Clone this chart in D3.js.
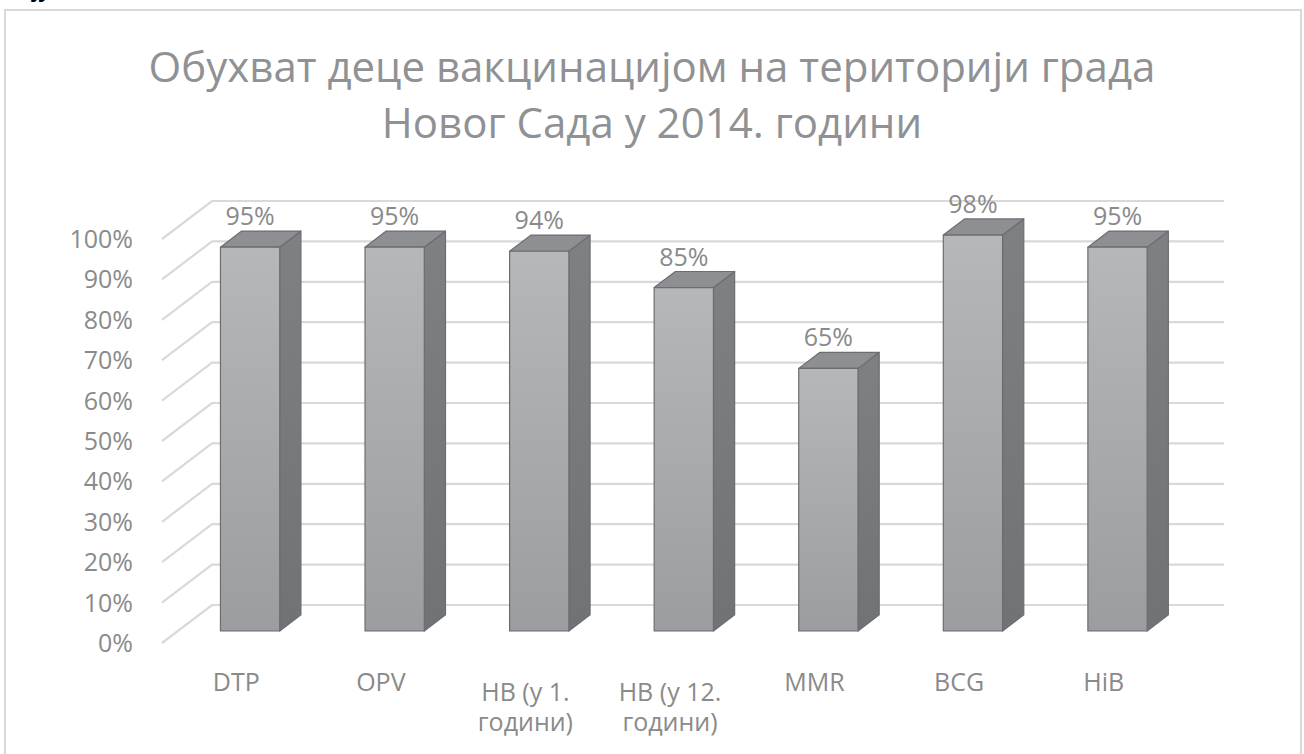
<!DOCTYPE html>
<html>
<head>
<meta charset="utf-8">
<script src="https://cdn.jsdelivr.net/npm/d3@7"></script>
<style>
  html, body { margin: 0; padding: 0; background: #fff; }
  svg { display: block; font-family: "Open Sans", "Noto Sans", sans-serif; }
</style>
</head>
<body>
<svg id="chart" width="1304" height="754"></svg>
<script>
// ---- data ----
const categories = ["DTP", "OPV", "HB (у 1. години)", "HB (у 12. години)", "MMR", "BCG", "HiB"];
const categoryLines = [["DTP"], ["OPV"], ["HB (у 1.", "години)"], ["HB (у 12.", "години)"], ["MMR"], ["BCG"], ["HiB"]];
const values = [0.95, 0.95, 0.94, 0.85, 0.65, 0.98, 0.95];
const valueLabels = ["95%", "95%", "94%", "85%", "65%", "98%", "95%"];
const tickValues = [0, 0.1, 0.2, 0.3, 0.4, 0.5, 0.6, 0.7, 0.8, 0.9, 1.0];
const tickLabels = ["0%", "10%", "20%", "30%", "40%", "50%", "60%", "70%", "80%", "90%", "100%"];
const titleLines = ["Обухват деце вакцинацијом на територији града", "Новог Сада у 2014. години"];

// ---- layout ----
const svg = d3.select("#chart");
const depthX = 50, depthY = -38;      // full floor depth vector
const d0 = 0.316, d1 = 0.74;          // bar depth range (fraction)
const x = d3.scaleBand().domain(categories).range([162, 1174]).padding(0);
const y = d3.scaleLinear().domain([0, 1]).range([643, 239]);
const barW = x.step() * 0.41;
const proj = (px, v, d) => [px + d * depthX, y(v) + d * depthY];
const labelSize = 25, labelColor = "#8a8a8a";

// frame
svg.append("rect").attr("x", 5).attr("y", 10).attr("width", 1296).attr("height", 780)
  .attr("fill", "#fff").attr("stroke", "#d9d9d9").attr("stroke-width", 2);

// cropped text above frame (as in the reference)
svg.append("text").attr("x", 34).attr("y", -3).attr("font-size", 22)
  .attr("font-style", "italic").attr("font-weight", "bold").attr("fill", "#000").text("ју");

// defs
const defs = svg.append("defs");
const gFront = defs.append("linearGradient").attr("id", "gFront").attr("x1", 0).attr("y1", 0).attr("x2", 0).attr("y2", 1);
gFront.append("stop").attr("offset", "0%").attr("stop-color", "#b6b7ba");
gFront.append("stop").attr("offset", "100%").attr("stop-color", "#9c9da0");
const gSide = defs.append("linearGradient").attr("id", "gSide").attr("x1", 0).attr("y1", 0).attr("x2", 0).attr("y2", 1);
gSide.append("stop").attr("offset", "0%").attr("stop-color", "#7f8083");
gSide.append("stop").attr("offset", "100%").attr("stop-color", "#717275");

// title
svg.append("g").selectAll("text").data(titleLines).join("text")
  .attr("x", 652).attr("y", (d, i) => 82 + i * 56)
  .attr("text-anchor", "middle").attr("font-size", 42).attr("fill", "#909194")
  .text(d => d);

// gridlines (wall + floor diagonal)
const x0 = x.range()[0], x1 = x.range()[1];
svg.append("g").selectAll("path").data(tickValues).join("path")
  .attr("d", t => {
    const a = proj(x0, t, 0), b = proj(x0, t, 1), c = proj(x1, t, 1);
    return `M${a}L${b}L${c}`;
  })
  .attr("fill", "none").attr("stroke", "#d9d9d9").attr("stroke-width", 2.2);

// y tick labels
svg.append("g").selectAll("text").data(tickValues).join("text")
  .attr("x", 133).attr("y", t => y(t) + 9)
  .attr("text-anchor", "end").attr("font-size", labelSize).attr("fill", labelColor)
  .text((t, i) => tickLabels[i]);

// bars
const bars = svg.append("g").selectAll("g").data(categories).join("g");
const stroke = "#6c6d70";
bars.each(function (c, i) {
  const g = d3.select(this);
  const v = values[i];
  const cx = x(c) + x.bandwidth() / 2;
  const L = cx - barW / 2, R = cx + barW / 2;
  const fTL = proj(L, v, d0), fTR = proj(R, v, d0), fBR = proj(R, 0, d0), fBL = proj(L, 0, d0);
  const bTL = proj(L, v, d1), bTR = proj(R, v, d1), bBR = proj(R, 0, d1);
  g.append("path").attr("d", `M${fTR}L${bTR}L${bBR}L${fBR}Z`)
    .attr("fill", "url(#gSide)").attr("stroke", stroke).attr("stroke-width", 1.2).attr("stroke-linejoin", "round");
  g.append("path").attr("d", `M${fTL}L${bTL}L${bTR}L${fTR}Z`)
    .attr("fill", "#8e8f92").attr("stroke", stroke).attr("stroke-width", 1.2).attr("stroke-linejoin", "round");
  g.append("path").attr("d", `M${fTL}L${fTR}L${fBR}L${fBL}Z`)
    .attr("fill", "url(#gFront)").attr("stroke", stroke).attr("stroke-width", 1.2).attr("stroke-linejoin", "round");
  g.append("text").attr("x", proj(cx, v, d0)[0]).attr("y", proj(cx, v, d0)[1] - 22)
    .attr("text-anchor", "middle").attr("font-size", labelSize).attr("fill", labelColor)
    .text(valueLabels[i]);
});

// category labels
svg.append("g").selectAll("text").data(categories).join("text")
  .attr("x", c => x(c) + x.bandwidth() / 2 + 2)
  .attr("y", (c, i) => categoryLines[i].length > 1 ? 701 : 691)
  .attr("text-anchor", "middle").attr("font-size", labelSize).attr("fill", labelColor)
  .each(function (c, i) {
    d3.select(this).selectAll("tspan").data(categoryLines[i]).join("tspan")
      .attr("x", x(c) + x.bandwidth() / 2 + 2)
      .attr("dy", (d, j) => j === 0 ? 0 : 30)
      .text(d => d);
  });
</script>
</body>
</html>
